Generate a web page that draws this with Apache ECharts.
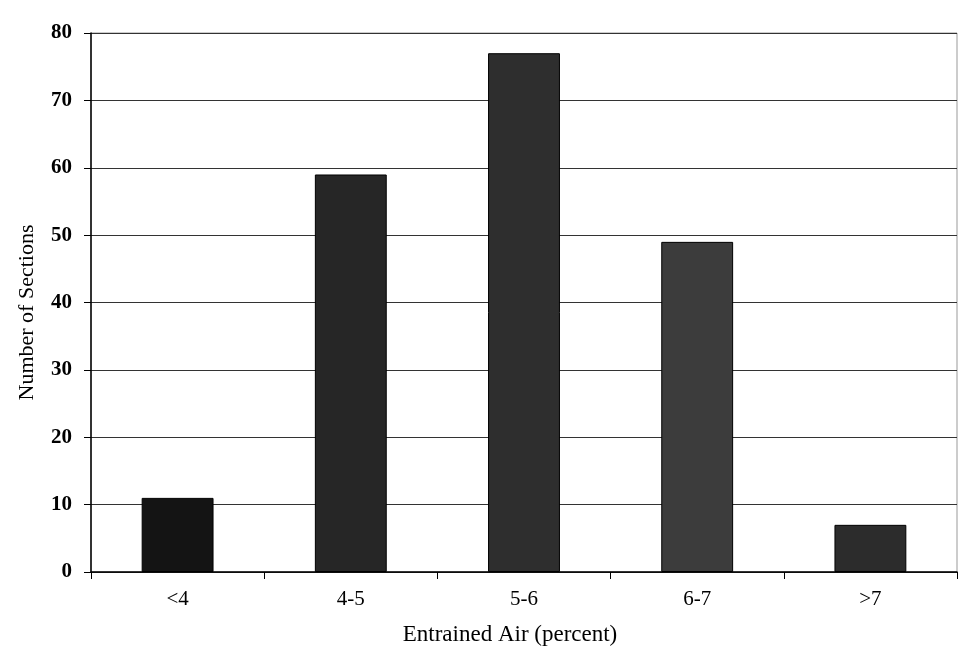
<!DOCTYPE html>
<html>
<head>
<meta charset="utf-8">
<script src="https://cdn.jsdelivr.net/npm/echarts@6/dist/echarts.min.js"></script>
<style>
  html, body { margin: 0; padding: 0; background: #fff; }
  #chart { width: 959px; height: 656px; }
</style>
</head>
<body>
<div id="chart"></div>
<script>
// Entrained air content bins and section counts
const categories = ['<4', '4-5', '5-6', '6-7', '>7'];
const sectionCounts = [11, 59, 77, 49, 7];
const barColors = ['#141414', '#262626', '#2e2e2e', '#3c3c3c', '#2c2c2c'];
const yTicks = { min: 0, max: 80, interval: 10 };

const serif = '"Liberation Serif", "Times New Roman", serif';

const chart = echarts.init(document.getElementById('chart'));
chart.setOption({
  animation: false,
  backgroundColor: '#ffffff',
  grid: {
    left: 91, right: 2, top: 33, bottom: 84,
    show: true, borderColor: '#999', borderWidth: 1
  },
  xAxis: {
    type: 'category',
    data: categories,
    name: 'Entrained Air (percent)',
    nameLocation: 'middle',
    nameGap: 51,
    nameTextStyle: { fontFamily: serif, fontSize: 23, color: '#000', padding: [0, 28, 0, 0] },
    axisLine: { lineStyle: { color: '#000', width: 1.5 } },
    axisTick: { show: true, length: 7, inside: false, lineStyle: { color: '#000' } },
    axisLabel: { fontFamily: serif, fontSize: 21, color: '#000', margin: 17 },
    splitLine: { show: false }
  },
  yAxis: {
    type: 'value',
    min: yTicks.min, max: yTicks.max, interval: yTicks.interval,
    name: 'Number of Sections',
    nameLocation: 'middle',
    nameGap: 53,
    nameTextStyle: { fontFamily: serif, fontSize: 22, color: '#000', padding: [0, 20, 0, 0] },
    axisLine: { show: true, lineStyle: { color: '#000', width: 1.5 } },
    axisTick: { show: true, length: 7, lineStyle: { color: '#000' } },
    axisLabel: { fontFamily: serif, fontSize: 21, fontWeight: 'bold', color: '#000', margin: 19 },
    splitLine: { show: true, lineStyle: { color: '#333', width: 1 } }
  },
  series: [{
    type: 'bar',
    data: sectionCounts.map((v, i) => ({ value: v, itemStyle: { color: barColors[i] } })),
    barWidth: '41.5%',
    itemStyle: { borderColor: '#000', borderWidth: 1 }
  }]
});
</script>
</body>
</html>
